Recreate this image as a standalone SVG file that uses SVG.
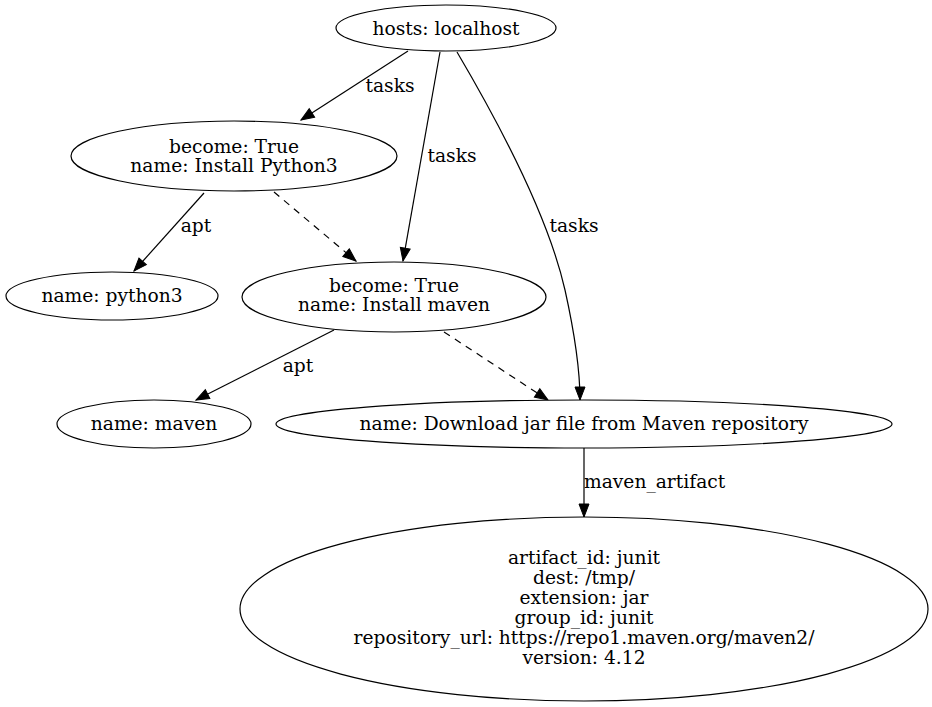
<svg xmlns="http://www.w3.org/2000/svg" width="932" height="707" viewBox="0 0 932 707">
<defs>
<marker id="arr" markerUnits="userSpaceOnUse" markerWidth="14" markerHeight="10" refX="13" refY="5" orient="auto" overflow="visible">
<path d="M0,0 L13,5 L0,10 Z" fill="#000" stroke="#000" stroke-width="1" stroke-dasharray="none"/>
</marker>
<style>
.n ellipse{fill:#fff;stroke:#000;stroke-width:1.2}
text{font-family:"DejaVu Serif","Liberation Serif",serif;font-size:18.67px;fill:#000}
.n text{text-anchor:middle}
.e path{fill:none;stroke:#000;stroke-width:1.2;marker-end:url(#arr)}
.e path.d{stroke-dasharray:7,6}
</style>
</defs>
<rect width="932" height="707" fill="#fff"/>
<g id="edges" class="e">
<path d="M408,51 L301,120"/>
<path d="M440,52 L403,261"/>
<path d="M457,52 C500,125 548,215 565,290 C575,335 580,370 580,400"/>
<path d="M204,193 L134,271"/>
<path class="d" d="M274,192 L356,261"/>
<path d="M334,330 L196,400"/>
<path class="d" d="M444,332 L548,400"/>
<path d="M584,448 L584,517"/>
<text x="390" y="92" text-anchor="middle">tasks</text>
<text x="452" y="162" text-anchor="middle">tasks</text>
<text x="574" y="232" text-anchor="middle">tasks</text>
<text x="196" y="232" text-anchor="middle">apt</text>
<text x="298" y="372" text-anchor="middle">apt</text>
<text x="584" y="488">maven_artifact</text>
</g>
<g id="n1" class="n"><ellipse cx="446" cy="28" rx="110" ry="23"/><text x="446" y="35">hosts: localhost</text></g>
<g id="n2" class="n"><ellipse cx="234" cy="156" rx="163" ry="35"/><text x="234" y="153">become: True</text><text x="234" y="172">name: Install Python3</text></g>
<g id="n3" class="n"><ellipse cx="112" cy="296" rx="106" ry="24"/><text x="112" y="302">name: python3</text></g>
<g id="n4" class="n"><ellipse cx="394" cy="297" rx="152" ry="35"/><text x="394" y="292">become: True</text><text x="394" y="311">name: Install maven</text></g>
<g id="n5" class="n"><ellipse cx="154" cy="424" rx="97" ry="24"/><text x="154" y="430">name: maven</text></g>
<g id="n6" class="n"><ellipse cx="584" cy="424" rx="308" ry="24"/><text x="584" y="430">name: Download jar file from Maven repository</text></g>
<g id="n7" class="n"><ellipse cx="584" cy="609" rx="344" ry="92"/>
<text x="584" y="564">artifact_id: junit</text>
<text x="584" y="584">dest: /tmp/</text>
<text x="584" y="604">extension: jar</text>
<text x="584" y="624">group_id: junit</text>
<text x="584" y="644">repository_url: https://repo1.maven.org/maven2/</text>
<text x="584" y="664">version: 4.12</text>
</g>
</svg>
